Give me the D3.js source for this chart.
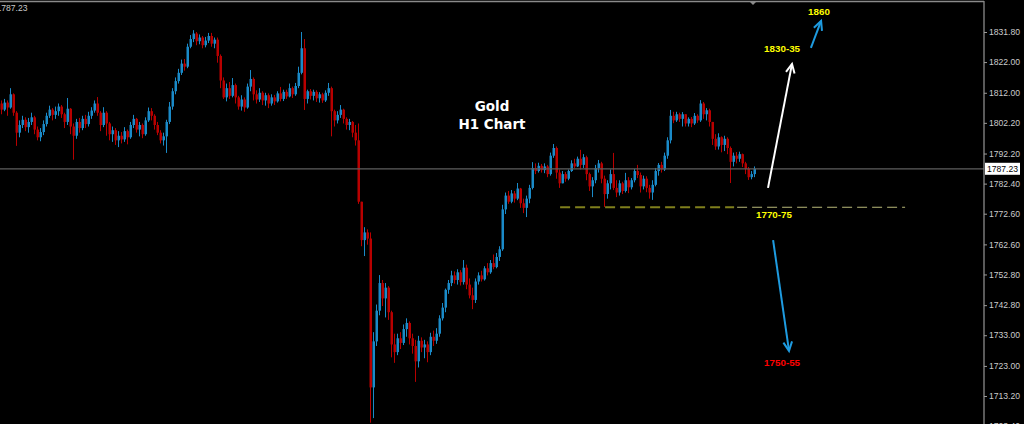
<!DOCTYPE html>
<html><head><meta charset="utf-8">
<script src="https://cdn.jsdelivr.net/npm/d3@7"></script>
<style>html,body{margin:0;padding:0;background:#000;overflow:hidden}</style>
</head><body><svg id="c" width="1024" height="424"></svg>
<script>
// ---- data (Gold H1) ----
const firstOpen = 1808.5;
const closes = [
1806.5,1808.8,1807.2,1811.5,1805.5,1799,1801.5,1803.2,1800.8,1802.5,
1804,1800,1797.5,1799.2,1801.8,1804.5,1806.5,1804.8,1806,1807.5,
1805,1802.5,1806.8,1801,1798,1802.5,1800.5,1803.5,1801.8,1804.5,
1806.2,1808.5,1805.5,1801.5,1805.5,1802,1798.5,1799.8,1796.5,1798,
1796.8,1799.5,1797.5,1801.5,1803.5,1800,1801.5,1798.5,1803,1806,
1804.5,1801.5,1799,1796.5,1797.8,1802.5,1807.5,1812.5,1815.8,1818.5,
1821.5,1820.5,1827,1829.5,1831.3,1828.8,1830,1827.5,1829,1830.5,
1828,1829.3,1824,1816,1810.5,1813.5,1811,1814.5,1810.5,1807.5,
1809.8,1807.2,1814,1816.5,1811.5,1809.8,1812,1809.5,1811.2,1808.5,
1810.5,1809.2,1811.8,1810,1812.3,1810.8,1813.5,1811.5,1814.2,1818.5,
1826.5,1810,1812.5,1811,1812.3,1810.2,1811.5,1809.5,1812,1813.5,
1806,1803,1804.8,1806.5,1803.5,1801.5,1802.5,1799,1796.5,1776.5,
1764,1766.5,1764.5,1716,1731,1741,1750,1745,1748.5,1740.5,
1730,1727.5,1732,1730.5,1735,1737,1732,1729.5,1724.5,1731.2,
1729,1730,1727.5,1732.5,1731.2,1733.5,1738.5,1742,1747.8,1750,
1752.5,1751,1753.5,1750.3,1755,1749.5,1746,1744.5,1750.5,1752.5,
1751.2,1754.8,1753.5,1756.5,1755.2,1758.5,1761,1774,1778.5,1776.5,
1779.2,1777.5,1780.8,1776,1774.5,1777.5,1781,1787.5,1786.5,1788.2,
1786.8,1788,1785.5,1791.5,1794,1786,1782.5,1785.5,1784,1786.5,
1789,1788,1790.5,1788.5,1791,1785.5,1781.5,1783.5,1787.5,1789,
1784,1779,1782.5,1785.5,1781,1779.5,1782.5,1780,1783.5,1781.2,
1783.5,1786.5,1785.2,1781.5,1784,1781,1779.5,1782,1786.5,1788.5,
1787,1791.5,1796.5,1804.5,1803,1805,1803.5,1805,1802,1803.5,
1802,1804.5,1803,1808.5,1805,1806.3,1802.5,1797,1794.5,1797.5,
1795,1797,1794,1789.5,1791.5,1790.5,1792,1789,1787.2,1784.5,
1785.5,1787.23];
const highs = [
1809.5,1810,1809.5,1813.5,1811.8,1806,1803,1804.5,1804,1803.8,
1805.5,1804.5,1801,1800.5,1803,1805.5,1807.8,1807,1807.5,1808.5,
1808,1805.5,1810.3,1807,1802,1803.5,1803.8,1804.5,1804.8,1805.8,
1807.3,1809.5,1810.6,1806,1807.3,1806,1802.5,1801,1800.5,1799.5,
1799.2,1800.8,1800,1802.5,1804.8,1803.8,1802.5,1802,1804,1807.2,
1807,1805,1802.5,1799.8,1799,1803.2,1809,1813.5,1817,1819.8,
1822.8,1823,1828,1830.8,1832.4,1831.8,1831,1830.5,1830.2,1831.5,
1831.5,1830,1830,1824.5,1817,1815,1815.5,1816.8,1815,1811,
1811.2,1810.5,1815,1819.4,1817,1812.8,1813.5,1812.5,1812,1811.8,
1811.5,1811.3,1812.5,1813.9,1813,1813,1815,1814,1815.2,1820.5,
1831.8,1829.5,1813,1813.2,1813,1812.8,1812.2,1812,1812.8,1815.2,
1814,1806.5,1806,1808,1806.8,1804,1803.5,1802.8,1801.5,1802,
1776.5,1768.2,1767.5,1766.5,1734,1743,1752.6,1751,1750,1749,
1741,1733.5,1733.5,1734,1736.5,1738.5,1737.5,1733.5,1731.5,1732.8,
1732.3,1731.5,1731,1733.8,1734.5,1735.3,1739.5,1743.5,1748.2,1751,
1754,1753.8,1754.5,1754.2,1757.5,1756,1751.5,1748.5,1751.5,1753.5,
1754,1755.5,1756.5,1757.5,1759.3,1759.8,1762,1775.5,1779.5,1780,
1780.3,1780,1782.6,1781,1777.5,1778.5,1782,1789.4,1789,1789.2,
1788.8,1789,1788.5,1792.5,1795.3,1794.5,1787,1786.5,1786.2,1787,
1790,1790.5,1791.2,1793.4,1792,1791.5,1786,1784.5,1788.5,1790.1,
1789.5,1785,1783.5,1787,1792.4,1783.5,1783.5,1783,1785.9,1784.5,
1784.2,1787.2,1788.5,1786,1785,1784.8,1782,1783.5,1787.5,1789.1,
1789.5,1792.5,1797.5,1806.4,1805.8,1805.8,1805.5,1805.7,1805,1804,
1804.1,1805.4,1805,1809.6,1809,1807,1806.8,1802.5,1798.5,1798.8,
1797.8,1798,1797.5,1794.5,1792.5,1792.7,1792.8,1792.2,1789.5,1787.8,
1786.5,1788];
const lows = [
1805,1806,1804.5,1806.8,1804.5,1794.7,1797.5,1800.5,1799.5,1799,
1801.5,1798.5,1796.5,1796.2,1798.2,1801,1803.8,1803,1803.5,1804.5,
1803.8,1800.5,1801.5,1798.5,1790.2,1797,1799,1799.8,1800.5,1801,
1803.5,1805.5,1804.5,1799.5,1800.8,1798,1796.5,1796,1795,1794.3,
1795.5,1796,1795.2,1797,1800.5,1799,1797.8,1797.2,1798,1802.5,
1803,1800,1798.2,1795.5,1794.8,1792.4,1801.8,1806.5,1811.5,1815,
1817.8,1819.2,1820,1826.5,1828.5,1827.5,1827.8,1826.5,1826.8,1828.2,
1827,1826.5,1821.8,1813.5,1810,1809.2,1810,1810.5,1808.5,1806.5,
1806.2,1805.8,1806.8,1812.5,1809.5,1808.5,1809,1808,1807.8,1807,
1807.8,1808,1808.8,1809.2,1809.3,1810,1810.5,1810.3,1811,1813.5,
1818,1806.4,1808.5,1809.8,1809.5,1809,1808.8,1808.7,1809,1811,
1797.8,1801,1802,1803.8,1802,1800,1799.8,1797.5,1794.8,1775.8,
1762,1758.8,1762.5,1704.5,1706,1729.5,1739.5,1742.5,1738.8,1738,
1725.8,1724,1726.5,1728.5,1729.8,1732.5,1730,1727,1717.8,1722.5,
1727.5,1725.5,1724.2,1726.5,1729.5,1730.2,1732.5,1737.8,1740.5,1746.5,
1749,1749.8,1749.5,1749.2,1749.5,1748,1745,1741.5,1743.5,1749.5,
1750.5,1750.8,1752.5,1753,1754.5,1754.8,1757.2,1760.5,1772.5,1775.8,
1776,1776.2,1777,1774.5,1772.8,1771.5,1776,1780.5,1785.5,1786,
1786,1785.8,1784.5,1785,1790.8,1784,1781,1782.5,1783,1783.5,
1786.2,1787.5,1787.8,1787,1787.5,1783.5,1780,1778,1782.5,1786,
1782.5,1774.8,1777.5,1780.5,1780.3,1778,1778.5,1779,1779.5,1779.3,
1780.5,1782.8,1784.2,1779.5,1780.5,1779.6,1777.5,1777.1,1781.5,1785,
1786,1786.5,1790.5,1795.5,1802.1,1802.5,1802.5,1801,1801,1801,
1800.8,1801.5,1802.2,1802.5,1803.5,1803,1801,1795,1793.4,1793.5,
1792.6,1793,1792,1782.6,1788,1789,1789.5,1787.8,1785.5,1783.6,
1783.8,1784.5];
const tickValues = [1831.80,1822.00,1812.00,1802.20,1792.20,1782.40,1772.60,1762.60,1752.80,1742.80,1733.00,1723.00,1713.20,1703.40];
const lastPrice = 1787.23;
// annotations in (bar index, price)
const arrows = [
  {i1:255.5, p1:1781.0, i2:263.5, p2:1821.4, color:"#ffffff"},
  {i1:269.8, p1:1826.6, i2:273.2, p2:1835.4, color:"#1e9be0"},
  {i1:257.2, p1:1764.0, i2:262.5, p2:1727.9, color:"#1e9be0"}
];
const labels = [
  {i:272.5, p:1838.6, text:"1860", color:"#ffff00"},
  {i:260.2, p:1826.3, text:"1830-35", color:"#ffff00"},
  {i:257.5, p:1772.2, text:"1770-75", color:"#ffff00"},
  {i:260.2, p:1724.0, text:"1750-55", color:"#ff0000"}
];
const titleLines = [{i:163.5, p:1807.7, text:"Gold"},{i:163.5, p:1801.8, text:"H1 Chart"}];
const supportLines = [
  {i1:186.2, i2:244.2, p:1774.7, color:"#7f7f1c", w:2},
  {i1:245.2, i2:301.2, p:1774.7, color:"#b9b979", w:1.2}
];

// ---- chart ----
const svg = d3.select("#c");
const W = 1024, H = 424, axisX = 984;
const x = d3.scaleLinear().domain([0, 251]).range([1.5, 754.5]);
const y = d3.scaleLinear().domain([1713.2, 1831.8]).range([396, 32]);

svg.append("rect").attr("width", W).attr("height", H).attr("fill", "#000");

const candles = closes.map((c, i) => ({
  o: i === 0 ? firstOpen : closes[i - 1], c, h: highs[i], l: lows[i], i
}));
const blue = "#1a8ac8", red = "#b80000";
const g = svg.append("g");
g.selectAll("line.w").data(candles).join("line")
  .attr("x1", d => x(d.i)).attr("x2", d => x(d.i))
  .attr("y1", d => y(d.h)).attr("y2", d => y(d.l))
  .attr("stroke", d => d.c >= d.o ? blue : red).attr("stroke-width", 1);
g.selectAll("rect.b").data(candles).join("rect")
  .attr("x", d => x(d.i) - 1).attr("width", 2.5)
  .attr("y", d => y(Math.max(d.o, d.c)))
  .attr("height", d => Math.max(1, Math.abs(y(d.o) - y(d.c))))
  .attr("fill", d => d.c >= d.o ? blue : red);

// price line
svg.append("line").attr("x1", 0).attr("x2", axisX).attr("y1", y(lastPrice)).attr("y2", y(lastPrice))
  .attr("stroke", "#5e5e5e").attr("stroke-width", 1.3);

// frame
svg.append("line").attr("x1", 0).attr("x2", axisX).attr("y1", 1.5).attr("y2", 1.5).attr("stroke", "#8a8a8a").attr("stroke-width", 1.3);
svg.append("line").attr("x1", axisX).attr("x2", axisX).attr("y1", 1).attr("y2", H).attr("stroke", "#8a8a8a").attr("stroke-width", 1.3);
svg.append("path").attr("d", `M${x(250.5)-4},1 L${x(250.5)+4},1 L${x(250.5)},5 Z`).attr("fill", "#8a8a8a");

// axis
const axis = d3.axisRight(y).tickValues(tickValues).tickSize(3).tickPadding(2).tickFormat(d3.format(".2f"));
const ag = svg.append("g").attr("transform", `translate(${axisX},0)`).call(axis);
ag.select(".domain").remove();
ag.selectAll("line").attr("stroke", "#9a9a9a");
ag.selectAll("text").attr("fill", "#cccccc").style("font-family", "Liberation Sans, Arial, sans-serif").style("font-size", "8.6px");

// price box
svg.append("rect").attr("x", axisX + 1).attr("y", y(lastPrice) - 6).attr("width", 35).attr("height", 12).attr("fill", "#fff");
svg.append("text").attr("x", axisX + 18.5).attr("y", y(lastPrice)).attr("text-anchor", "middle").attr("dominant-baseline", "central")
  .attr("fill", "#000").style("font-family", "Liberation Sans, Arial, sans-serif").style("font-size", "8.6px").text(d3.format(".2f")(lastPrice));
svg.append("text").attr("x", -3.5).attr("y", 8).attr("dominant-baseline", "central")
  .attr("fill", "#c8c8c8").style("font-family", "Liberation Sans, Arial, sans-serif").style("font-size", "8.6px").text(d3.format(".2f")(lastPrice));

// support lines
svg.selectAll("line.sup").data(supportLines).join("line")
  .attr("x1", d => x(d.i1)).attr("x2", d => x(d.i2)).attr("y1", d => y(d.p)).attr("y2", d => y(d.p))
  .attr("stroke", d => d.color).attr("stroke-width", d => d.w).attr("stroke-dasharray", "10,5");

// arrows
arrows.forEach(a => {
  const x1 = x(a.i1), y1 = y(a.p1), x2 = x(a.i2), y2 = y(a.p2);
  const ang = Math.atan2(y2 - y1, x2 - x1), L = 10, spread = 0.45;
  svg.append("line").attr("x1", x1).attr("y1", y1).attr("x2", x2).attr("y2", y2)
    .attr("stroke", a.color).attr("stroke-width", 2);
  const p = [ang + Math.PI - spread, ang + Math.PI + spread].map(t => [x2 + L * Math.cos(t), y2 + L * Math.sin(t)]);
  svg.append("path").attr("d", `M${p[0][0]},${p[0][1]} L${x2},${y2} L${p[1][0]},${p[1][1]}`)
    .attr("fill", "none").attr("stroke", a.color).attr("stroke-width", 2);
});

// labels
svg.selectAll("text.lab").data(labels).join("text")
  .attr("x", d => x(d.i)).attr("y", d => y(d.p)).attr("text-anchor", "middle").attr("dominant-baseline", "central")
  .attr("fill", d => d.color).style("font-family", "Liberation Sans, Arial, sans-serif")
  .style("font-weight", "bold").style("font-size", "9.8px").text(d => d.text);

svg.selectAll("text.title").data(titleLines).join("text")
  .attr("x", d => x(d.i)).attr("y", d => y(d.p)).attr("text-anchor", "middle").attr("dominant-baseline", "central")
  .attr("fill", "#fff").style("font-family", "DejaVu Sans, sans-serif")
  .style("font-weight", "bold").style("font-size", "13.5px").text(d => d.text);
</script></body></html>
